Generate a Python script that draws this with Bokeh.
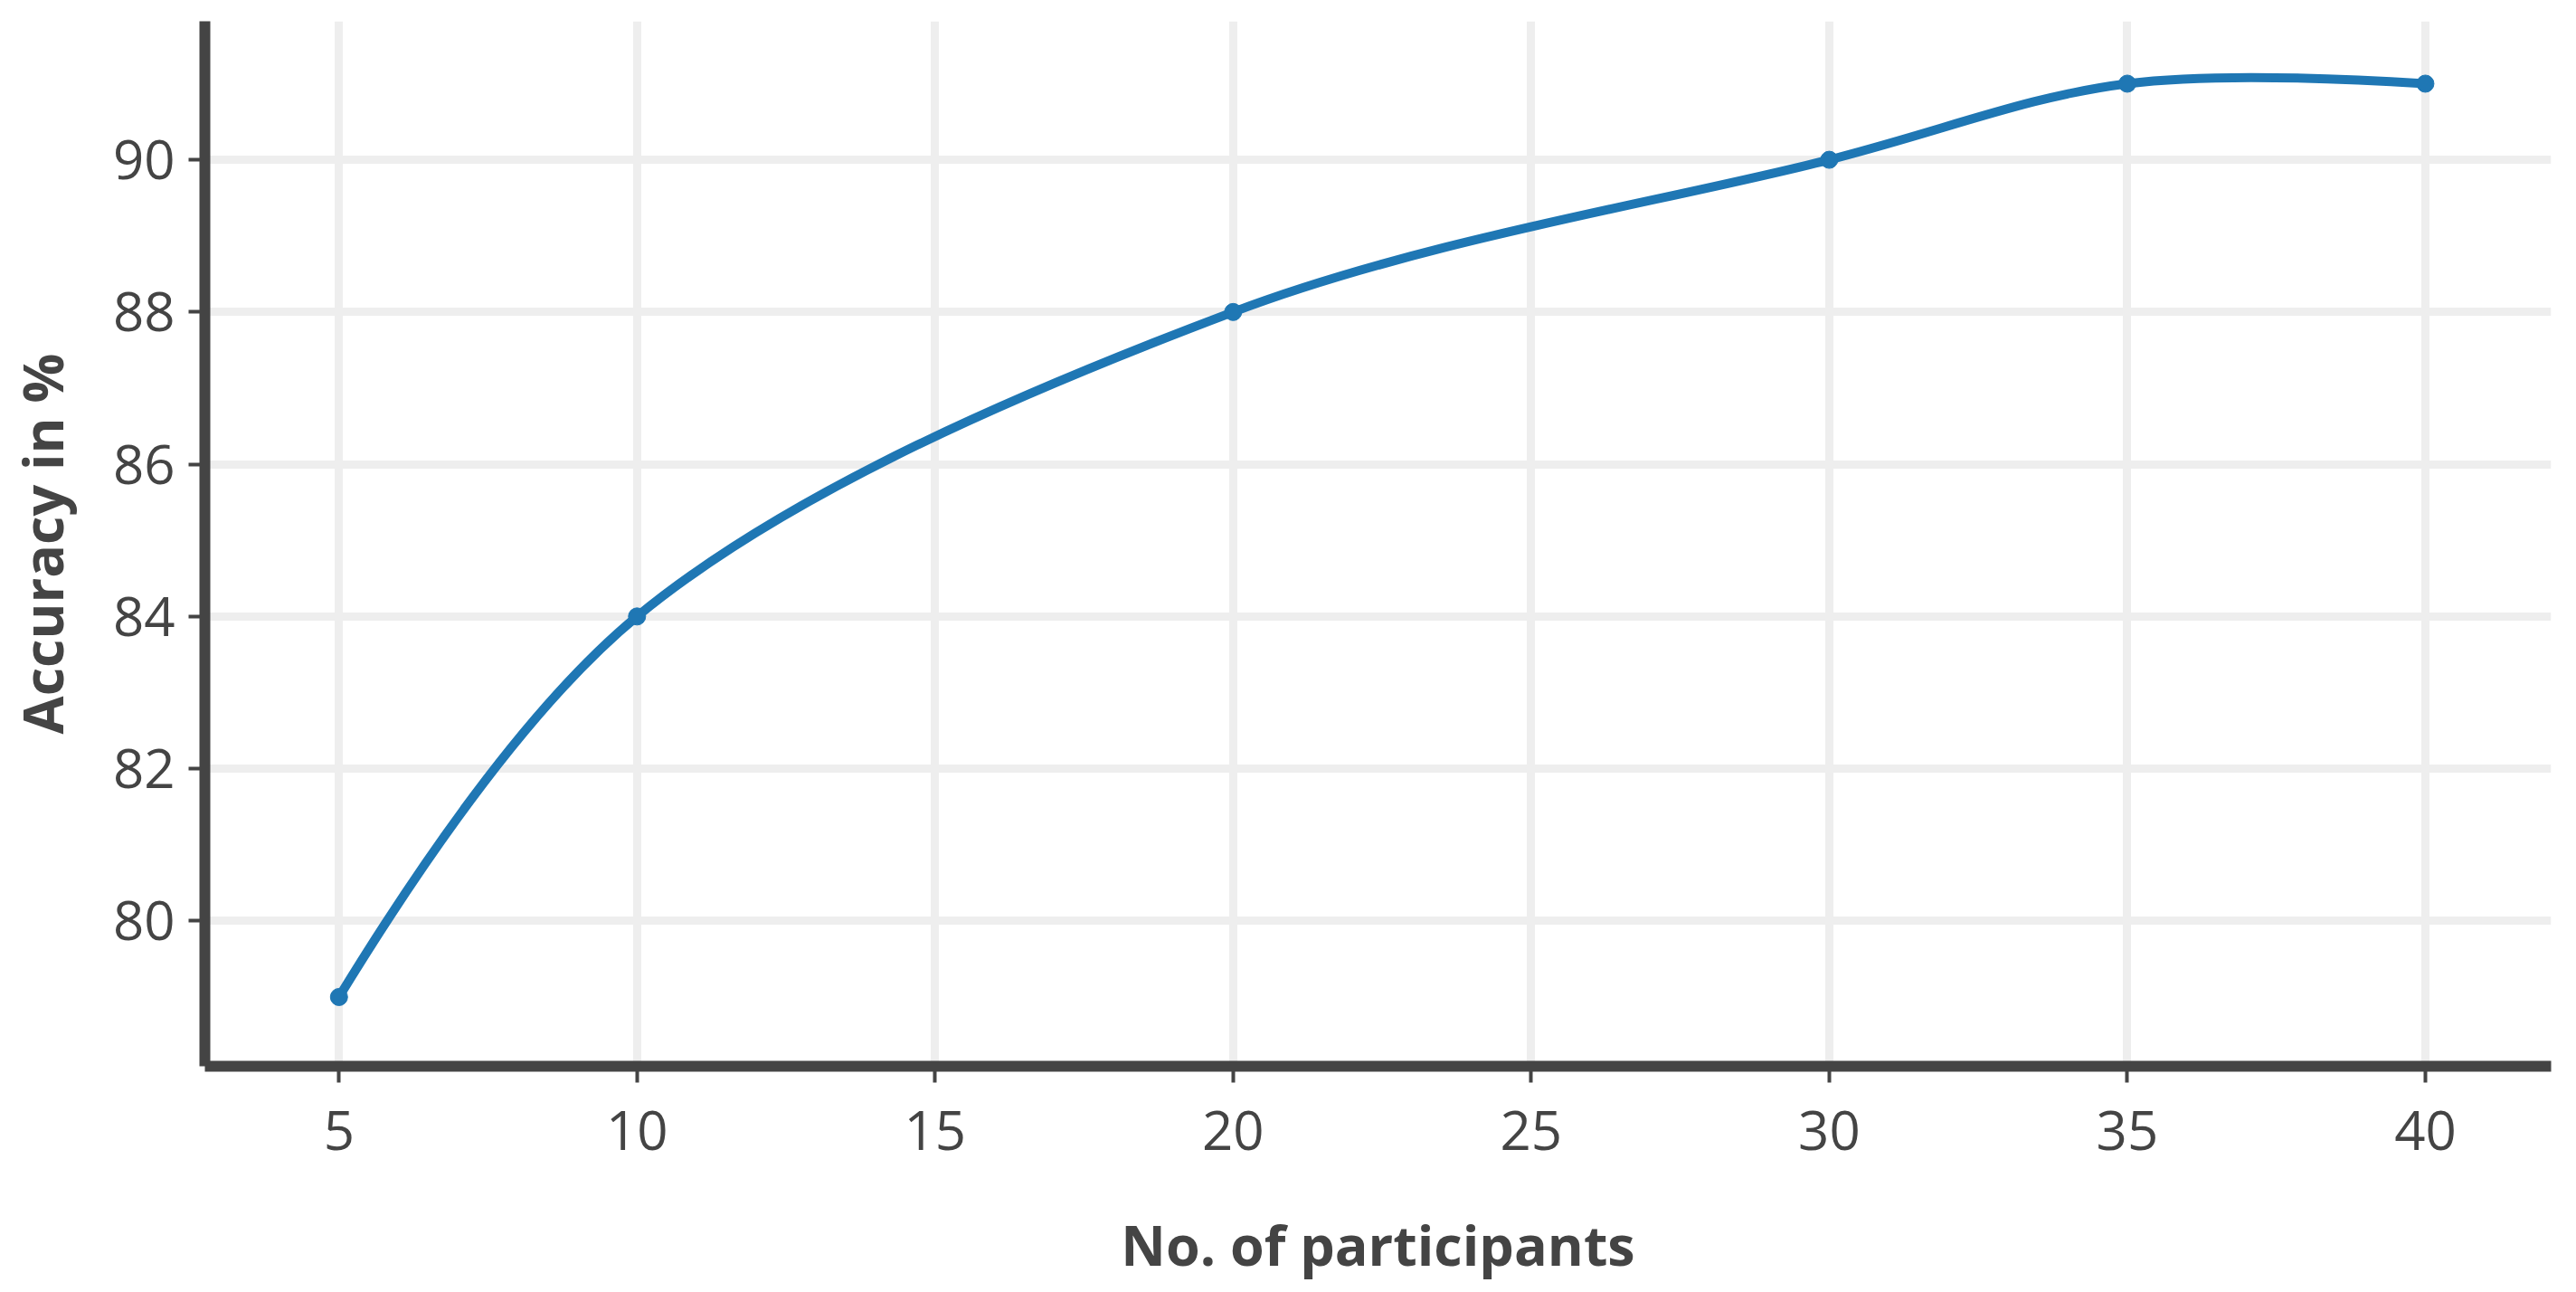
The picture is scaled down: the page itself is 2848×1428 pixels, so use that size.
from bokeh.plotting import figure
from bokeh.models import FixedTicker, Range1d
from bokeh.embed import file_html
from bokeh.resources import INLINE

# data
participants = [5, 10, 20, 30, 35, 40]
accuracy = [79, 84, 88, 90, 91, 91]
x_ticks = [5, 10, 15, 20, 25, 30, 35, 40]
y_ticks = [80, 82, 84, 86, 88, 90]

x_start, x_end = 2.75, 42.11
y_start, y_end = 78.09, 91.82
frame_w, frame_h = 2594, 1155

p = figure(width=2832, height=1416, frame_width=frame_w, frame_height=frame_h,
           x_range=Range1d(x_start, x_end), y_range=Range1d(y_start, y_end),
           output_backend="svg", toolbar_location=None,
           min_border_left=226, min_border_right=12, min_border_top=23, min_border_bottom=238)
p.outline_line_color = None
p.background_fill_color = "white"
p.border_fill_color = "white"

# spline through the points (plotly style catmull-rom tangents, in pixel space)
sx = frame_w / (x_end - x_start)
sy = frame_h / (y_end - y_start)
pts = [(x * sx, y * sy) for x, y in zip(participants, accuracy)]


def tangent(prev, this, nxt, smooth=1.0):
    d1x, d1y = prev[0] - this[0], prev[1] - this[1]
    d2x, d2y = nxt[0] - this[0], nxt[1] - this[1]
    d1a = (d1x * d1x + d1y * d1y) ** 0.25
    d2a = (d2x * d2x + d2y * d2y) ** 0.25
    numx = (d2a * d2a * d1x - d1a * d1a * d2x) * smooth
    numy = (d2a * d2a * d1y - d1a * d1a * d2y) * smooth
    den1 = 3 * d2a * (d1a + d2a)
    den2 = 3 * d1a * (d1a + d2a)
    return ((this[0] + numx / den1, this[1] + numy / den1),
            (this[0] - numx / den2, this[1] - numy / den2))


tans = [tangent(pts[i - 1], pts[i], pts[i + 1]) for i in range(1, len(pts) - 1)]


def dx(v):
    return v / sx


def dy(v):
    return v / sy


line_color = "#1f77b4"
lw = 10
n = len(pts)
p.quadratic(x0=[participants[0]], y0=[accuracy[0]], x1=[participants[1]], y1=[accuracy[1]],
            cx=[dx(tans[0][0][0])], cy=[dy(tans[0][0][1])], line_color=line_color, line_width=lw)
bx0, by0, bx1, by1, c0x, c0y, c1x, c1y = [], [], [], [], [], [], [], []
for i in range(2, n - 1):
    bx0.append(participants[i - 1]); by0.append(accuracy[i - 1])
    bx1.append(participants[i]); by1.append(accuracy[i])
    c0x.append(dx(tans[i - 2][1][0])); c0y.append(dy(tans[i - 2][1][1]))
    c1x.append(dx(tans[i - 1][0][0])); c1y.append(dy(tans[i - 1][0][1]))
p.bezier(x0=bx0, y0=by0, x1=bx1, y1=by1, cx0=c0x, cy0=c0y, cx1=c1x, cy1=c1y,
         line_color=line_color, line_width=lw)
p.quadratic(x0=[participants[n - 2]], y0=[accuracy[n - 2]], x1=[participants[n - 1]], y1=[accuracy[n - 1]],
            cx=[dx(tans[n - 3][1][0])], cy=[dy(tans[n - 3][1][1])], line_color=line_color, line_width=lw)
p.scatter(participants, accuracy, size=19, color=line_color)

# axes
for ax in (p.xaxis[0], p.yaxis[0]):
    ax.axis_line_color = "#444444"
    ax.axis_line_width = 12
    ax.major_tick_line_color = "#444444"
    ax.major_tick_line_width = 4
    ax.major_tick_out = 18
    ax.major_tick_in = 0
    ax.minor_tick_line_color = None
    ax.major_label_text_font = "Open Sans"
    ax.major_label_text_font_size = "60px"
    ax.major_label_text_color = "#444444"
    ax.axis_label_text_font = "Open Sans"
    ax.axis_label_text_font_size = "61px"
    ax.axis_label_text_font_style = "bold"
    ax.axis_label_text_color = "#444444"

p.xaxis.ticker = FixedTicker(ticks=x_ticks)
p.yaxis.ticker = FixedTicker(ticks=y_ticks)
p.xaxis.axis_label = "No. of participants"
p.yaxis.axis_label = "Accuracy in %"
p.xaxis.major_label_standoff = 31
p.xaxis.axis_label_standoff = 60
p.yaxis.major_label_standoff = 15
p.yaxis.axis_label_standoff = 34

p.xgrid.ticker = FixedTicker(ticks=x_ticks)
p.ygrid.ticker = FixedTicker(ticks=y_ticks)
p.grid.grid_line_color = "#eeeeee"
p.grid.grid_line_width = 9

open("out.html", "w").write(file_html(p, INLINE))
